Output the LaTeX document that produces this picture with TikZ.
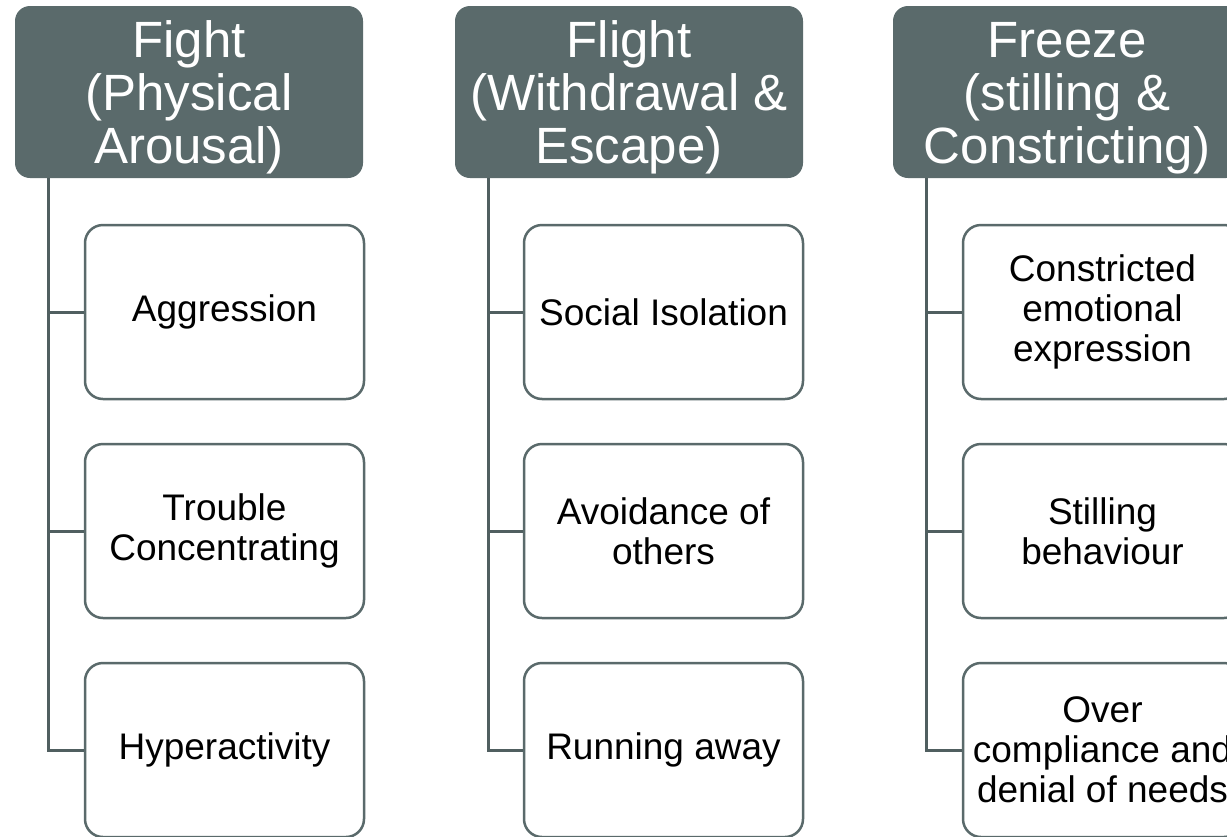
\documentclass[tikz,border=0pt]{standalone}
\usepackage{fontspec}
\setmainfont{Liberation Sans}
\definecolor{slate}{RGB}{90,106,107}
\definecolor{slatedark}{RGB}{80,95,96}
\begin{document}
\begin{tikzpicture}[x=1pt,y=-1pt,
  head/.style={draw=none,fill=slate,rounded corners=15pt,minimum width=348pt,minimum height=172pt,
    inner sep=0pt,text=white,align=center,font=\fontsize{51pt}{53pt}\selectfont},
  item/.style={draw=slate,line width=2.5pt,fill=white,rounded corners=18pt,minimum width=279pt,minimum height=174pt,
    inner sep=0pt,text=black,align=center,font=\fontsize{37pt}{40pt}\selectfont},
  conn/.style={draw=slatedark,line width=3pt}]
\useasboundingbox (0,0) rectangle (1227,836);
\clip (0,0) rectangle (1227,836);
% headers
\node[head] (h1) at (189,92) {\rule{0pt}{47pt}Fight\\(Physical\\Arousal)};
\node[head] (h2) at (629,92) {\rule{0pt}{47pt}Flight\\(Withdrawal \&\\Escape)};
\node[head] (h3) at (1067,92) {\rule{0pt}{47pt}Freeze\\(stilling \&\\Constricting)};
% items
\node[item] (a1) at (224.5,312) {Aggression};
\node[item] (a2) at (224.5,531) {Trouble\\Concentrating};
\node[item] (a3) at (224.5,750) {Hyperactivity};
\node[item] (b1) at (663.5,312) {Social Isolation};
\node[item] (b2) at (663.5,531) {Avoidance of\\others};
\node[item] (b3) at (663.5,750) {Running away};
\node[item] (c1) at (1102.5,312) {Constricted\\emotional\\expression};
\node[item] (c2) at (1102.5,531) {Stilling\\behaviour};
\node[item] (c3) at (1102.5,750) {Over\\compliance and\\denial of needs};
% connectors
\foreach \h/\c in {h1/a,h2/b,h3/c}{
  \draw[conn] ([xshift=34pt]\h.south west) |- (\c3.west);
  \draw[conn] ([xshift=34pt]\h.south west) |- (\c2.west);
  \draw[conn] ([xshift=34pt]\h.south west) |- (\c1.west);
}
\end{tikzpicture}
\end{document}
